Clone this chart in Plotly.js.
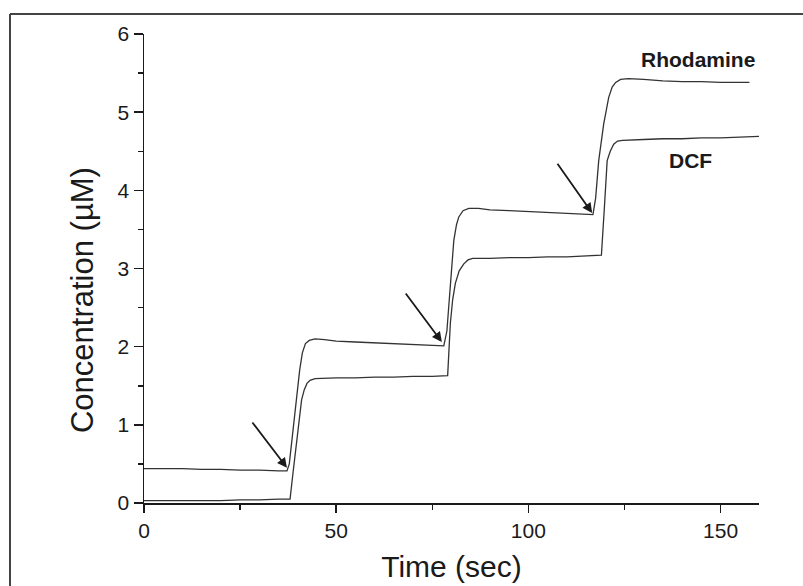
<!DOCTYPE html>
<html>
<head>
<meta charset="utf-8">
<script src="https://cdn.plot.ly/plotly-3.0.1.min.js"></script>
<style>
html,body{margin:0;padding:0;background:#fff;}
#chart{width:803px;height:586px;}
</style>
</head>
<body>
<div id="chart"></div>
<script>
// Rhodamine trace (time in sec, concentration in µM)
const rhodTime = [0,5,10,15,20,25,30,35,37.2,37.8,38.8,39.8,40.5,41.2,42,43,44.5,47,50,55,60,65,70,75,78,
  78.8,79.7,80.6,81.3,81.9,83,84.5,87,90,95,100,105,110,114,116.8,
  117.5,118.3,119.6,120.9,121.8,122.7,124,126,130,135,140,145,150,155,157.5];
const rhodConc = [0.44,0.44,0.44,0.43,0.43,0.42,0.42,0.41,0.41,0.50,0.95,1.40,1.70,1.92,2.04,2.08,2.10,2.09,2.07,2.06,2.05,2.04,2.03,2.02,2.01,
  2.20,2.81,3.36,3.56,3.66,3.74,3.77,3.77,3.75,3.74,3.73,3.72,3.71,3.70,3.69,
  3.90,4.38,4.85,5.19,5.32,5.38,5.42,5.43,5.42,5.40,5.39,5.39,5.38,5.38,5.38];

// DCF trace
const dcfTime = [0,5,10,15,20,25,30,35,38,38.8,39.8,41,41.7,42.4,43.2,44.5,50,55,60,65,70,75,79,
  79.7,80.3,81,82,83.2,84.3,85.5,90,95,100,105,110,115,119,
  119.8,120.5,121.3,122.2,123.2,124.5,130,135,140,145,150,155,160];
const dcfConc = [0.03,0.03,0.03,0.03,0.03,0.04,0.04,0.05,0.05,0.40,0.80,1.32,1.45,1.53,1.57,1.59,1.60,1.60,1.61,1.61,1.62,1.62,1.63,
  2.30,2.60,2.81,2.97,3.06,3.11,3.13,3.13,3.14,3.14,3.15,3.15,3.16,3.17,
  3.80,4.38,4.50,4.59,4.63,4.64,4.65,4.66,4.66,4.67,4.67,4.68,4.69];

// Arrows marking additions (tail -> head, data coords)
const arrowTailT = [27.9, 67.8, 107.3];
const arrowTailC = [1.05, 2.70, 4.36];
const arrowHeadT = [37.2, 77.5, 116.6];
const arrowHeadC = [0.45, 2.06, 3.71];

// Series labels
const labelText = ["Rhodamine", "DCF"];
const labelT = [144, 142.2];
const labelC = [5.67, 4.38];

const xTickVals = [0, 50, 100, 150];
const yTickVals = [0, 1, 2, 3, 4, 5, 6];

const font = "Arial, 'Liberation Sans', Helvetica, sans-serif";
const ink = "#1a1a1a";

const traces = [
  {x: rhodTime, y: rhodConc, mode: "lines", name: "Rhodamine",
   line: {color: "#333", width: 1.3}},
  {x: dcfTime, y: dcfConc, mode: "lines", name: "DCF",
   line: {color: "#333", width: 1.3}}
];

const annotations = [];
for (let i = 0; i < arrowTailT.length; i++) {
  annotations.push({
    x: arrowHeadT[i], y: arrowHeadC[i], xref: "x", yref: "y",
    ax: arrowTailT[i], ay: arrowTailC[i], axref: "x", ayref: "y",
    text: "", showarrow: true, arrowhead: 2, arrowsize: 1.1, arrowwidth: 1.8,
    arrowcolor: ink, standoff: 0
  });
}
for (let i = 0; i < labelText.length; i++) {
  annotations.push({
    x: labelT[i], y: labelC[i], xref: "x", yref: "y",
    text: "<b>" + labelText[i] + "</b>", showarrow: false,
    font: {family: font, size: 21, color: ink}
  });
}
annotations.push({
  x: -0.099, y: 0.433, xref: "paper", yref: "paper",
  xanchor: "center", yanchor: "middle",
  text: "Concentration (µM)", textangle: -90, showarrow: false,
  font: {family: font, size: 31, color: ink}
});

const L = 144, R = 44, T = 34, B = 83;
const pw = 803 - L - R, ph = 586 - T - B;
const px = v => (v - L) / pw;
const py = v => (586 - B - v) / ph;

const layout = {
  width: 803, height: 586,
  margin: {l: L, r: R, t: T, b: B},
  paper_bgcolor: "#fff", plot_bgcolor: "#fff",
  showlegend: false,
  font: {family: font, color: ink},
  xaxis: {
    range: [0, 160], showgrid: false, zeroline: false,
    showline: true, linecolor: ink, linewidth: 2,
    tickvals: xTickVals, ticks: "outside", ticklen: 8, tickwidth: 1.5, tickcolor: ink,
    tickfont: {family: font, size: 21, color: ink},
    minor: {dtick: 25, ticks: "outside", ticklen: 5, tickwidth: 1.5, tickcolor: ink},
    title: {text: "Time (sec)", font: {family: font, size: 30, color: ink}, standoff: 15}
  },
  yaxis: {
    range: [0, 6], showgrid: false, zeroline: false,
    showline: true, linecolor: ink, linewidth: 1.5,
    tickvals: yTickVals, ticks: "outside", ticklen: 9, tickwidth: 1.5, tickcolor: ink,
    tickfont: {family: font, size: 21, color: ink},
    minor: {dtick: 0.5, ticks: "outside", ticklen: 5, tickwidth: 1.5, tickcolor: ink}
  },
  annotations: annotations,
  shapes: [
    {type: "line", xref: "paper", yref: "paper", x0: px(10), x1: px(810), y0: py(14), y1: py(14),
     line: {color: "#444", width: 2}},
    {type: "line", xref: "paper", yref: "paper", x0: px(10), x1: px(10), y0: py(14), y1: py(600),
     line: {color: "#444", width: 2}}
  ]
};

Plotly.newPlot("chart", traces, layout, {displayModeBar: false, staticPlot: true});
</script>
</body>
</html>
